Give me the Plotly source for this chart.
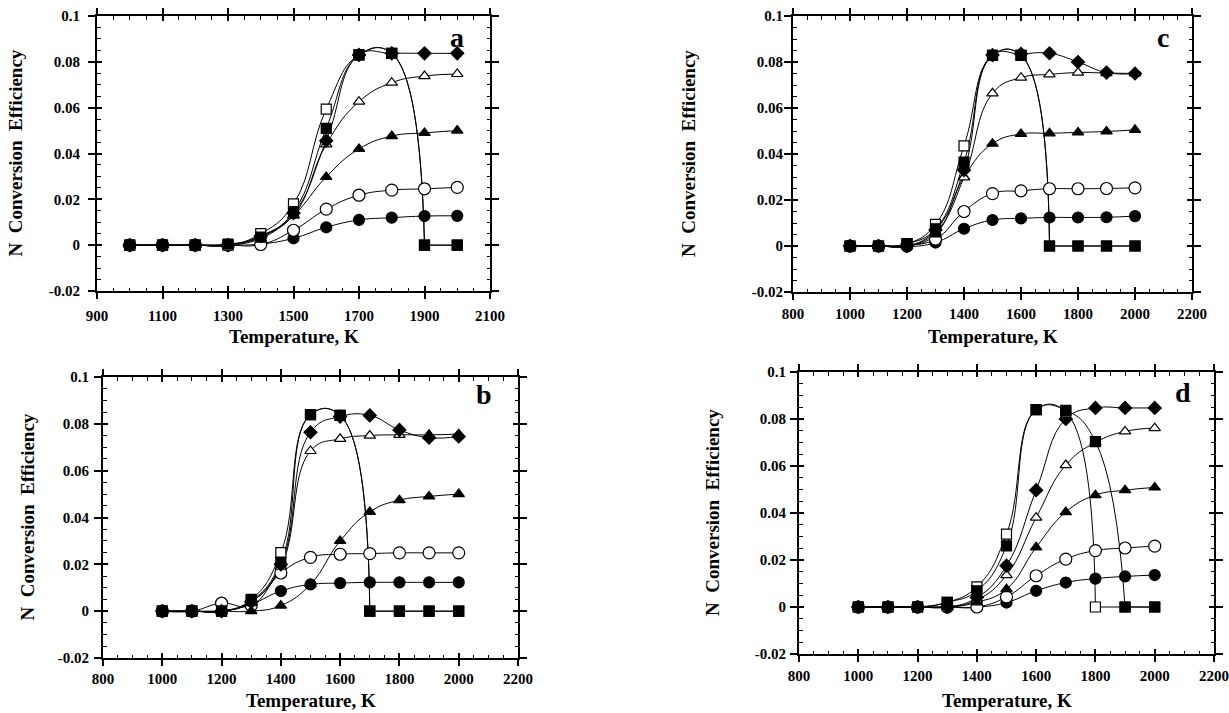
import plotly.graph_objects as go

# ---------------- data ----------------
T = [1000, 1100, 1200, 1300, 1400, 1500, 1600, 1700, 1800, 1900, 2000]

# panel a
fc_a = [0, 0, 0, 0, 0.0005, 0.003, 0.0078, 0.011, 0.012, 0.0127, 0.0128]
oc_a = [0, 0, 0, 0, 0.0003, 0.0065, 0.0157, 0.0218, 0.024, 0.0246, 0.0252]
ft_a = [0, 0, 0, 0, 0.003, 0.013, 0.0298, 0.042, 0.0476, 0.049, 0.050]
ot_a = [0, 0, 0, 0, 0.004, 0.013, 0.044, 0.0626, 0.0709, 0.0738, 0.0747]
fd_a = [0, 0, 0, 0, 0.004, 0.014, 0.0456, 0.083, 0.0837, 0.0837, 0.0837]
os_a = [0, 0, 0, 0, 0.005, 0.018, 0.0594, 0.083, 0.0837, 0, 0]
fs_a = [0, 0, 0, 0.0005, 0.0035, 0.0146, 0.051, 0.083, 0.0837, 0, 0]

# panel b
fc_b = [0, 0, 0, 0.003, 0.0086, 0.0114, 0.012, 0.0123, 0.0123, 0.0123, 0.0123]
oc_b = [0, 0, 0.0034, 0.0024, 0.0163, 0.023, 0.0243, 0.0246, 0.0249, 0.0249, 0.0249]
ft_b = [0, 0, 0, 0, 0.0024, 0.0115, 0.030, 0.0424, 0.0474, 0.049, 0.050]
ot_b = [0, 0, 0, 0.004, 0.019, 0.0684, 0.0736, 0.075, 0.0753, 0.0753, 0.0756]
fd_b = [0, 0, 0, 0.004, 0.020, 0.0764, 0.0831, 0.0836, 0.0774, 0.0741, 0.0746]
os_b = [0, 0, 0, 0.005, 0.025, 0.0839, 0.0836, 0, 0, 0, 0]
fs_b = [0, 0, 0, 0.0045, 0.021, 0.0839, 0.0836, 0, 0, 0, 0]

# panel c
fc_c = [0, 0, -0.0003, 0.0015, 0.0075, 0.0113, 0.012, 0.0124, 0.0124, 0.0125, 0.013]
oc_c = [0, 0, 0.0003, 0.003, 0.015, 0.0228, 0.024, 0.0249, 0.0249, 0.025, 0.0253]
ft_c = [0, 0, 0, 0.005, 0.030, 0.0445, 0.0487, 0.049, 0.0494, 0.0498, 0.0505]
ot_c = [0, 0, 0, 0.006, 0.0298, 0.0664, 0.0732, 0.0746, 0.0754, 0.0752, 0.075]
fd_c = [0, 0, 0, 0.007, 0.033, 0.083, 0.0835, 0.0838, 0.080, 0.0754, 0.075]
os_c = [0, 0, 0.001, 0.0094, 0.0435, 0.0829, 0.0829, 0, 0, 0, 0]
fs_c = [0, 0, 0.001, 0.0075, 0.0365, 0.0829, 0.0829, 0, 0, 0, 0]

# panel d
fc_d = [0, 0, 0, 0, 0, 0.0019, 0.0069, 0.0104, 0.0121, 0.013, 0.0136]
oc_d = [0, 0, 0, 0, 0, 0.0043, 0.0133, 0.0204, 0.024, 0.0251, 0.0259]
ft_d = [0, 0, 0, 0, 0.002, 0.0076, 0.0254, 0.0404, 0.0476, 0.0497, 0.0509]
ot_d = [0, 0, 0, 0, 0.003, 0.0136, 0.038, 0.0604, 0.070, 0.0747, 0.0761]
fd_d = [0, 0, 0, 0, 0.004, 0.0176, 0.0497, 0.080, 0.0847, 0.0847, 0.0847]
os_d = [0, 0, 0, 0.002, 0.0086, 0.031, 0.084, 0.083, 0, 0, 0]
fs_d = [0, 0, 0, 0.002, 0.0069, 0.026, 0.084, 0.0837, 0.0704, 0, 0]

ytick_vals = [-0.02, 0, 0.02, 0.04, 0.06, 0.08, 0.1]
ytick_text = ["-0.02", "0", "0.02", "0.04", "0.06", "0.08", "0.1"]
xtick_vals_a = [900, 1100, 1300, 1500, 1700, 1900, 2100]
xtick_vals = [800, 1000, 1200, 1400, 1600, 1800, 2000, 2200]

y_title = "N  Conversion  Efficiency"
x_title = "Temperature, K"

# ---------------- styles ----------------
W, H = 1229, 713
FONT = "Liberation Serif"
# (symbol, fill, size)
STY = [("circle", "black", 11), ("circle", "white", 12),
       ("triangle-up", "black", 10), ("triangle-up", "white", 10),
       ("diamond", "black", 10), ("square", "white", 10),
       ("square", "black", 10)]

panels = [
    dict(letter="a", data=[fc_a, oc_a, ft_a, ot_a, fd_a, os_a, fs_a],
         xr=[900, 2100], xt=xtick_vals_a, px=(97, 490), py=(16, 291),
         ytitle_x=15, xtitle_y=336, letter_xy=(457, 38), ylab_gap=12, xlab_gap=10),
    dict(letter="b", data=[fc_b, oc_b, ft_b, ot_b, fd_b, os_b, fs_b],
         xr=[800, 2200], xt=xtick_vals, px=(103, 518), py=(377, 658),
         ytitle_x=27, xtitle_y=700, letter_xy=(484, 395), ylab_gap=9, xlab_gap=6),
    dict(letter="c", data=[fc_c, oc_c, ft_c, ot_c, fd_c, os_c, fs_c],
         xr=[800, 2200], xt=xtick_vals, px=(793, 1192), py=(16, 292),
         ytitle_x=688, xtitle_y=336, letter_xy=(1163, 38), ylab_gap=5, xlab_gap=7),
    dict(letter="d", data=[fc_d, oc_d, ft_d, ot_d, fd_d, os_d, fs_d],
         xr=[800, 2200], xt=xtick_vals, px=(799, 1214), py=(372, 654),
         ytitle_x=712, xtitle_y=700, letter_xy=(1183, 392), ylab_gap=8, xlab_gap=7),
]


def split_idx(y):
    for j in range(1, len(y)):
        if y[j - 1] > 0.03 and y[j] < 0.005:
            return j
    return len(y) - 1


fig = go.Figure()
annotations = []
layout = {}

for k, p in enumerate(panels):
    i = k + 1
    xn = "x" if i == 1 else f"x{i}"
    yn = "y" if i == 1 else f"y{i}"
    xo, yo = f"x{i + 4}", f"y{i + 4}"
    domx = [p["px"][0] / W, p["px"][1] / W]
    domy = [1 - p["py"][1] / H, 1 - p["py"][0] / H]

    # lines
    for y in p["data"]:
        j = split_idx(y)
        fig.add_trace(go.Scatter(x=T[:j + 1], y=y[:j + 1], mode="lines",
                                 line=dict(color="black", width=1, shape="spline", smoothing=1.3),
                                 xaxis=xn, yaxis=yn, showlegend=False, hoverinfo="skip"))
        if j < len(y) - 1:
            fig.add_trace(go.Scatter(x=T[j:], y=y[j:], mode="lines",
                                     line=dict(color="black", width=1),
                                     xaxis=xn, yaxis=yn, showlegend=False, hoverinfo="skip"))
    # markers
    for y, (sym, fill, sz) in zip(p["data"], STY):
        fig.add_trace(go.Scatter(x=T, y=y, mode="markers",
                                 marker=dict(symbol=sym, color=fill, size=sz,
                                             line=dict(color="black", width=1.2)),
                                 xaxis=xn, yaxis=yn, showlegend=False))
    # empty trace to create overlay subplot
    fig.add_trace(go.Scatter(x=[], y=[], xaxis=xo, yaxis=yo, showlegend=False))

    common = dict(showline=True, linecolor="black", linewidth=2, mirror="ticks",
                  showgrid=False, zeroline=False, tickcolor="black", tickwidth=1.5,
                  automargin=False)
    layout[("xaxis" if i == 1 else f"xaxis{i}")] = dict(
        common, domain=domx, anchor=yn, range=p["xr"], tickvals=p["xt"],
        ticks="inside", ticklen=5, ticklabelstandoff=p["xlab_gap"],
        minor=dict(dtick=50, tick0=p["xr"][0], ticks="inside", ticklen=3.5,
                   tickwidth=1, tickcolor="black"),
        tickfont=dict(family=FONT, size=15, color="black", weight="bold"))
    layout[("yaxis" if i == 1 else f"yaxis{i}")] = dict(
        common, domain=domy, anchor=xn, range=[-0.02, 0.1], tickvals=ytick_vals,
        ticktext=ytick_text, ticks="inside", ticklen=5, ticklabelstandoff=p["ylab_gap"],
        minor=dict(dtick=0.005, tick0=0, ticks="inside", ticklen=3.5,
                   tickwidth=1, tickcolor="black"),
        tickfont=dict(family=FONT, size=15, color="black", weight="bold"))
    layout[f"xaxis{i + 4}"] = dict(common, overlaying=xn, anchor=yo, range=p["xr"],
                                   tickvals=p["xt"], ticks="outside", ticklen=6,
                                   showticklabels=False)
    layout[f"yaxis{i + 4}"] = dict(common, overlaying=yn, anchor=xo, range=[-0.02, 0.1],
                                   tickvals=ytick_vals, ticks="outside", ticklen=7,
                                   showticklabels=False)

    cy = 1 - (p["py"][0] + p["py"][1]) / 2 / H
    annotations.append(dict(x=p["ytitle_x"] / W, y=cy, xref="paper", yref="paper",
                            xanchor="center", yanchor="middle",
                            text=y_title, textangle=-90, showarrow=False,
                            font=dict(family=FONT, size=19, color="black", weight="bold")))
    annotations.append(dict(x=(p["px"][0] + p["px"][1]) / 2 / W, y=1 - p["xtitle_y"] / H,
                            xref="paper", yref="paper", xanchor="center", yanchor="middle",
                            text=x_title, showarrow=False,
                            font=dict(family=FONT, size=19, color="black", weight="bold")))
    annotations.append(dict(x=p["letter_xy"][0] / W, y=1 - p["letter_xy"][1] / H,
                            xref="paper", yref="paper", xanchor="center", yanchor="middle",
                            text=p["letter"], showarrow=False,
                            font=dict(family=FONT, size=28, color="black", weight="bold")))

fig.update_layout(width=W, height=H, margin=dict(l=0, r=0, t=0, b=0),
                  paper_bgcolor="white", plot_bgcolor="white",
                  annotations=annotations, **layout)

fig.write_html("out.html", config={"displayModeBar": False},
               post_script="document.body.style.margin='0';")
